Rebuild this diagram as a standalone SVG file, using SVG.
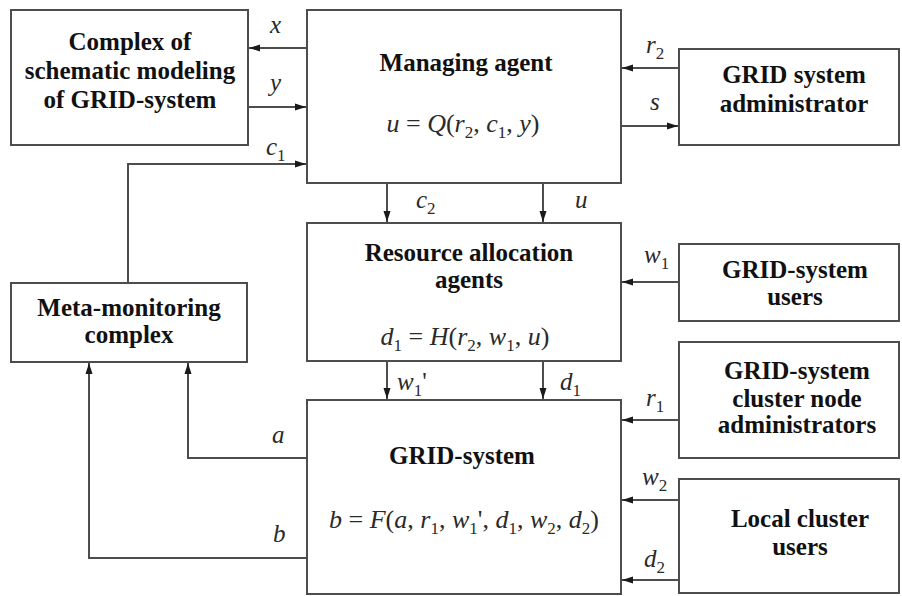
<svg xmlns="http://www.w3.org/2000/svg" width="902" height="596" viewBox="0 0 902 596">
  <style>
    .box { fill: #ffffff; stroke: #4d4d4d; stroke-width: 2; }
    .wire { fill: none; stroke: #4d4d4d; stroke-width: 2; marker-end: url(#arrow); }
    .title { font-family: "Liberation Serif", "Times New Roman", serif; font-weight: bold; font-size: 25px; fill: #111111; text-anchor: middle; }
    .math { font-family: "Liberation Serif", "Times New Roman", serif; font-style: italic; font-size: 25px; fill: #2a2a2a; }
    .formula { font-family: "Liberation Serif", "Times New Roman", serif; font-size: 26px; fill: #2a2a2a; text-anchor: middle; }
    .it { font-style: italic; }
    .sub { font-style: normal; font-size: 17px; }
  </style>
  <defs>
    <marker id="arrow" markerUnits="userSpaceOnUse" markerWidth="12" markerHeight="8" refX="11" refY="4" orient="auto">
      <path d="M0,0.5 L11,4 L0,7.5 Z" fill="#1a1a1a"/>
    </marker>
  </defs>

  <rect width="902" height="596" fill="#ffffff"/>

  <!-- connectors -->
  <g id="connectors">
    <line class="wire" x1="307" y1="48" x2="249" y2="48"/>
    <line class="wire" x1="248" y1="107" x2="306" y2="107"/>
    <path class="wire" d="M128,283 V164 H306"/>
    <line class="wire" x1="679" y1="68" x2="622" y2="68"/>
    <line class="wire" x1="621" y1="126" x2="678" y2="126"/>
    <line class="wire" x1="387" y1="183" x2="387" y2="222"/>
    <line class="wire" x1="543" y1="183" x2="543" y2="222"/>
    <line class="wire" x1="679" y1="282" x2="622" y2="282"/>
    <line class="wire" x1="387" y1="361" x2="387" y2="399"/>
    <line class="wire" x1="543" y1="361" x2="543" y2="399"/>
    <line class="wire" x1="679" y1="420" x2="622" y2="420"/>
    <line class="wire" x1="679" y1="500" x2="622" y2="500"/>
    <line class="wire" x1="679" y1="580" x2="622" y2="580"/>
    <path class="wire" d="M307,458 H188 V363"/>
    <path class="wire" d="M307,558 H89 V363"/>

    <!-- signal labels -->
    <text class="math" x="270" y="33">x</text>
    <text class="math" x="270" y="91">y</text>
    <text class="math" x="266" y="155">c<tspan class="sub" dy="6">1</tspan></text>
    <text class="math" x="646" y="53">r<tspan class="sub" dy="6">2</tspan></text>
    <text class="math" x="650" y="110">s</text>
    <text class="math" x="416" y="208">c<tspan class="sub" dy="6">2</tspan></text>
    <text class="math" x="575" y="208">u</text>
    <text class="math" x="397" y="390">w<tspan class="sub" dy="6">1</tspan><tspan dy="-6" style="font-style:normal">'</tspan></text>
    <text class="math" x="560" y="390">d<tspan class="sub" dy="6">1</tspan></text>
    <text class="math" x="644" y="263">w<tspan class="sub" dy="6">1</tspan></text>
    <text class="math" x="646" y="406">r<tspan class="sub" dy="6">1</tspan></text>
    <text class="math" x="642" y="485">w<tspan class="sub" dy="6">2</tspan></text>
    <text class="math" x="644" y="567">d<tspan class="sub" dy="6">2</tspan></text>
    <text class="math" x="272" y="443">a</text>
    <text class="math" x="273" y="542">b</text>
  </g>

  <!-- nodes -->
  <g id="modeling-complex">
    <rect class="box" x="11" y="10" width="237" height="135"/>
    <text class="title" x="130" y="50">Complex of</text>
    <text class="title" x="130" y="79">schematic modeling</text>
    <text class="title" x="130" y="108">of GRID-system</text>
  </g>

  <g id="managing-agent">
    <rect class="box" x="307" y="10" width="314" height="173"/>
    <text class="title" x="466" y="71">Managing agent</text>
    <text class="formula" x="463" y="132"><tspan class="it">u</tspan> = <tspan class="it">Q</tspan>(<tspan class="it">r</tspan><tspan class="sub" dy="6">2</tspan><tspan dy="-6">, </tspan><tspan class="it">c</tspan><tspan class="sub" dy="6">1</tspan><tspan dy="-6">, </tspan><tspan class="it">y</tspan>)</text>
  </g>

  <g id="grid-admin">
    <rect class="box" x="679" y="49" width="220" height="96"/>
    <text class="title" x="794" y="83">GRID system</text>
    <text class="title" x="794" y="112">administrator</text>
  </g>

  <g id="meta-monitoring">
    <rect class="box" x="11" y="283" width="236" height="79"/>
    <text class="title" x="129" y="316">Meta-monitoring</text>
    <text class="title" x="129" y="343">complex</text>
  </g>

  <g id="resource-allocation">
    <rect class="box" x="307" y="223" width="314" height="138"/>
    <text class="title" x="469" y="261">Resource allocation</text>
    <text class="title" x="469" y="288">agents</text>
    <text class="formula" x="465" y="345"><tspan class="it">d</tspan><tspan class="sub" dy="6">1</tspan><tspan dy="-6"> = </tspan><tspan class="it">H</tspan>(<tspan class="it">r</tspan><tspan class="sub" dy="6">2</tspan><tspan dy="-6">, </tspan><tspan class="it">w</tspan><tspan class="sub" dy="6">1</tspan><tspan dy="-6">, </tspan><tspan class="it">u</tspan>)</text>
  </g>

  <g id="grid-users">
    <rect class="box" x="679" y="244" width="220" height="77"/>
    <text class="title" x="795" y="278">GRID-system</text>
    <text class="title" x="795" y="305">users</text>
  </g>

  <g id="cluster-admins">
    <rect class="box" x="679" y="342" width="220" height="116"/>
    <text class="title" x="797" y="379">GRID-system</text>
    <text class="title" x="797" y="407">cluster node</text>
    <text class="title" x="797" y="433">administrators</text>
  </g>

  <g id="grid-system">
    <rect class="box" x="307" y="400" width="314" height="194"/>
    <text class="title" x="462" y="464">GRID-system</text>
    <text class="formula" x="464" y="528"><tspan class="it">b</tspan> = <tspan class="it">F</tspan>(<tspan class="it">a</tspan>, <tspan class="it">r</tspan><tspan class="sub" dy="6">1</tspan><tspan dy="-6">, </tspan><tspan class="it">w</tspan><tspan class="sub" dy="6">1</tspan><tspan dy="-6">', </tspan><tspan class="it">d</tspan><tspan class="sub" dy="6">1</tspan><tspan dy="-6">, </tspan><tspan class="it">w</tspan><tspan class="sub" dy="6">2</tspan><tspan dy="-6">, </tspan><tspan class="it">d</tspan><tspan class="sub" dy="6">2</tspan><tspan dy="-6">)</tspan></text>
  </g>

  <g id="local-users">
    <rect class="box" x="679" y="479" width="220" height="114"/>
    <text class="title" x="800" y="527">Local cluster</text>
    <text class="title" x="800" y="555">users</text>
  </g>
</svg>
